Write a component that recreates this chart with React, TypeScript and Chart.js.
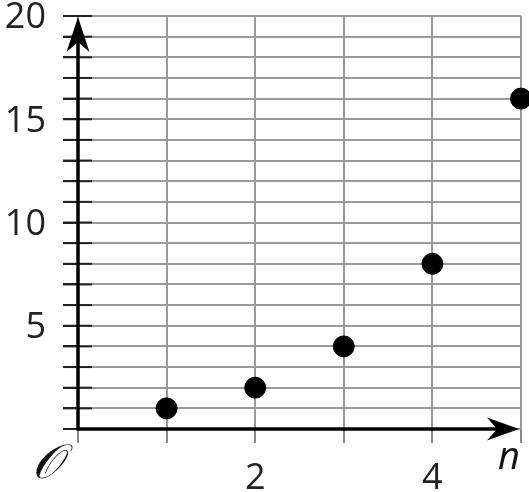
import React, { useEffect, useRef } from "react";
import { Chart, registerables } from "chart.js";

Chart.register(...registerables);

const nValues = [1, 2, 3, 4, 5];
const yValues = [1, 2, 4, 8, 16];
const xTickLabels = [2, 4];
const yTickLabels = [5, 10, 15, 20];
const xMin = 0, xMax = 5, yMin = 0, yMax = 20;

const FONT = "'Open Sans', 'Noto Sans', sans-serif";

const decorPlugin = {
  id: "decor",
  afterDraw(chart: any) {
    const ctx = chart.ctx as CanvasRenderingContext2D;
    const xs = chart.scales.x;
    const ys = chart.scales.y;
    const x0 = xs.getPixelForValue(0);
    const y0 = ys.getPixelForValue(0);
    const xEnd = xs.getPixelForValue(xMax);
    const yTop = ys.getPixelForValue(yMax);
    ctx.save();
    // dark tick segments across y axis
    ctx.strokeStyle = "#222";
    ctx.lineWidth = 2;
    for (let v = 1; v <= yMax; v++) {
      const py = ys.getPixelForValue(v);
      ctx.beginPath();
      ctx.moveTo(x0 - 15, py);
      ctx.lineTo(x0 + 14, py);
      ctx.stroke();
    }
    // axes
    ctx.strokeStyle = "#000";
    ctx.lineWidth = 3.5;
    ctx.lineCap = "butt";
    ctx.beginPath();
    ctx.moveTo(x0, y0 + 1.5);
    ctx.lineTo(x0, yTop + 20);
    ctx.moveTo(x0 - 1.5, y0);
    ctx.lineTo(xEnd - 20, y0);
    ctx.stroke();
    ctx.fillStyle = "#000";
    // y arrow
    const ty = yTop + 1;
    ctx.beginPath();
    ctx.moveTo(x0, ty);
    ctx.lineTo(x0 + 11.5, ty + 35);
    ctx.lineTo(x0, ty + 25);
    ctx.lineTo(x0 - 11.5, ty + 35);
    ctx.closePath();
    ctx.fill();
    // x arrow
    const tx = xEnd - 2;
    ctx.beginPath();
    ctx.moveTo(tx, y0);
    ctx.lineTo(tx - 32, y0 - 11.5);
    ctx.lineTo(tx - 22, y0);
    ctx.lineTo(tx - 32, y0 + 11.5);
    ctx.closePath();
    ctx.fill();
    // tick labels
    ctx.fillStyle = "#222";
    ctx.font = `36px ${FONT}`;
    ctx.textAlign = "right";
    ctx.textBaseline = "middle";
    yTickLabels.forEach((v) => {
      ctx.fillText(String(v), 46, ys.getPixelForValue(v) + 2);
    });
    ctx.textAlign = "center";
    xTickLabels.forEach((v) => {
      ctx.fillText(String(v), xs.getPixelForValue(v), 479);
    });
    // axis labels
    ctx.fillStyle = "#111";
    ctx.font = `italic 38px ${FONT}`;
    ctx.fillText("n", xEnd - 12, y0 + 29);
    ctx.font = `italic 48px 'DejaVu Serif', serif`;
    ctx.fillText("\u{1D4AA}", 47, y0 + 37);
    ctx.restore();
  },
};

export default function App() {
  const ref = useRef<HTMLCanvasElement>(null);
  useEffect(() => {
    if (!ref.current) return;
    const chart = new Chart(ref.current, {
      type: "scatter",
      data: {
        datasets: [
          {
            data: nValues.map((n, i) => ({ x: n, y: yValues[i] })),
            backgroundColor: "#000",
            borderColor: "#000",
            pointRadius: 10.5,
            pointHoverRadius: 10.5,
            clip: false as any,
          },
        ],
      },
      options: {
        animation: false,
        responsive: false,
        maintainAspectRatio: false,
        events: [],
        layout: { autoPadding: false, padding: { top: 16, right: 8, left: 0, bottom: 0 } },
        plugins: { legend: { display: false }, tooltip: { enabled: false } },
        scales: {
          x: {
            type: "linear",
            min: xMin,
            max: xMax,
            afterFit: (s: any) => { s.height = 63; },
            border: { display: false },
            grid: { color: "#999", lineWidth: 2, tickLength: 14, tickColor: "#888" },
            ticks: { stepSize: 1, autoSkip: false, display: false },
          },
          y: {
            type: "linear",
            min: yMin,
            max: yMax,
            afterFit: (s: any) => { s.width = 78; },
            border: { display: false },
            grid: { color: "#999", lineWidth: 2, tickLength: 15, tickColor: "#222" },
            ticks: { stepSize: 1, autoSkip: false, display: false },
          },
        },
      },
      plugins: [decorPlugin],
    });
    return () => chart.destroy();
  }, []);
  return (
    <div style={{ position: "fixed", left: 0, top: 0, width: 529, height: 492, background: "#fff" }}>
      <canvas ref={ref} width={529} height={492} style={{ width: 529, height: 492 }} />
    </div>
  );
}
